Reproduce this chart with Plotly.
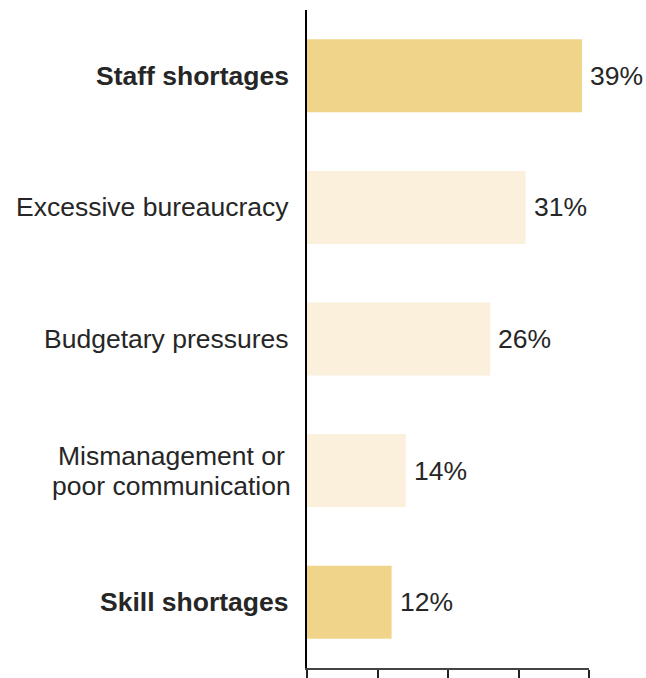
import plotly.graph_objects as go

# Survey results: main obstacles reported
categories = [
    "Staff shortages",
    "Excessive bureaucracy",
    "Budgetary pressures",
    "Mismanagement or<br>poor communication",
    "Skill shortages",
]
shares = [39, 31, 26, 14, 12]
highlighted = [True, False, False, False, True]

STRONG = "#EFD48A"
SOFT = "#FAF0DB"
TEXT = "#262626"
FONT = "Liberation Sans, Arial, sans-serif"
SIZE = 26.5
LINE_STEP = 30  # vertical distance between lines of a wrapped label

colors = [STRONG if h else SOFT for h in highlighted]

fig = go.Figure(
    go.Bar(
        x=shares,
        y=categories,
        orientation="h",
        marker=dict(color=colors, line=dict(width=0)),
        hoverinfo="skip",
    )
)

annotations = []
for cat, val, hl in zip(categories, shares, highlighted):
    # category label to the left of the axis, one annotation per line
    lines = cat.split("<br>")
    n = len(lines)
    for i, line in enumerate(lines):
        shift = ((n - 1) / 2 - i) * LINE_STEP
        annotations.append(
            dict(
                x=0, xref="paper", y=cat, yref="y",
                text=f"<b>{line}</b>" if hl else line,
                showarrow=False,
                xanchor="center" if n > 1 else "right",
                yanchor="middle",
                xshift=-136 if n > 1 else -16,
                yshift=shift,
                font=dict(family=FONT, size=SIZE, color=TEXT),
            )
        )
    # value label at the end of the bar
    annotations.append(
        dict(
            x=val, xref="x", y=cat, yref="y",
            text=f"{val}%", showarrow=False,
            xanchor="left", yanchor="middle",
            xshift=6,
            font=dict(family=FONT, size=SIZE, color=TEXT),
        )
    )

fig.update_layout(
    width=646,
    height=678,
    margin=dict(l=307, r=57, t=10, b=10),
    paper_bgcolor="white",
    plot_bgcolor="white",
    showlegend=False,
    bargap=0.445,
    font=dict(family=FONT, size=SIZE, color=TEXT),
    annotations=annotations,
    xaxis=dict(
        range=[0, 40],
        dtick=10,
        automargin=False,
        showgrid=False,
        zeroline=False,
        showline=True,
        linecolor="#444444",
        linewidth=1.5,
        ticks="outside",
        ticklen=10,
        tickwidth=1.5,
        tickcolor="#222222",
        showticklabels=False,
    ),
    yaxis=dict(
        categoryorder="array",
        categoryarray=categories[::-1],
        automargin=False,
        showgrid=False,
        zeroline=False,
        showline=True,
        linecolor="black",
        linewidth=2,
        ticks="",
        showticklabels=False,
    ),
)

fig.write_html("out.html")
